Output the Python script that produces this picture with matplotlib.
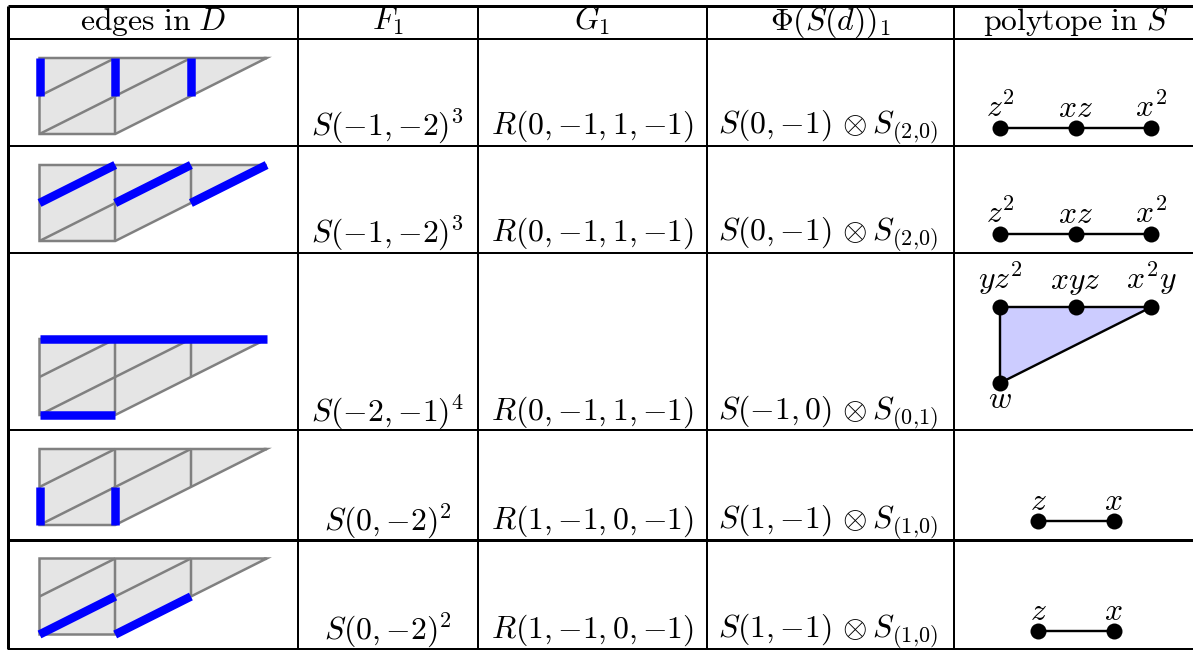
import matplotlib
matplotlib.use("Agg")
import matplotlib.pyplot as plt
from matplotlib.patches import Polygon

plt.rcParams['mathtext.fontset'] = 'cm'
plt.rcParams['font.family'] = 'DejaVu Serif'

# table text
headers = [r"$\mathrm{edges\ in}\ D$", r"$F_1$", r"$G_1$", r"$\Phi(S(d))_1$", r"$\mathrm{polytope\ in}\ S$"]
f1_labels = [r"$S({-}1,{-}2)^3$", r"$S({-}1,{-}2)^3$", r"$S({-}2,{-}1)^4$", r"$S(0,{-}2)^2$", r"$S(0,{-}2)^2$"]
g1_labels = [r"$R(0,{-}1,1,{-}1)$", r"$R(0,{-}1,1,{-}1)$", r"$R(0,{-}1,1,{-}1)$",
             r"$R(1,{-}1,0,{-}1)$", r"$R(1,{-}1,0,{-}1)$"]
phi_labels = [r"$S(0,{-}1)\,\otimes S_{(2{,}0)}$", r"$S(0,{-}1)\,\otimes S_{(2{,}0)}$",
              r"$S({-}1,0)\,\otimes S_{(0{,}1)}$",
              r"$S(1,{-}1)\,\otimes S_{(1{,}0)}$", r"$S(1,{-}1)\,\otimes S_{(1{,}0)}$"]

# the triangulated shape, in lattice units
shape_outline = [(0, 0), (1, 0), (3, 2), (0, 2)]
grey_edges = [((0, 1), (1, 2)), ((0, 0), (2, 2)), ((1, 0), (1, 2)), ((2, 1), (2, 2))]
blue_edges = [
    [((0, 1), (0, 2)), ((1, 1), (1, 2)), ((2, 1), (2, 2))],
    [((0, 1), (1, 2)), ((1, 1), (2, 2)), ((2, 1), (3, 2))],
    [((0, 2), (3, 2)), ((0, 0), (1, 0))],
    [((0, 0), (0, 1)), ((1, 0), (1, 1))],
    [((0, 0), (1, 1)), ((1, 0), (2, 1))],
]

# polytopes: lattice points and their labels
poly_points = [
    [(0, 0), (1, 0), (2, 0)],
    [(0, 0), (1, 0), (2, 0)],
    [(0, 0), (1, 0), (2, 0), (0, -2)],
    [(0, 0), (1, 0)],
    [(0, 0), (1, 0)],
]
poly_labels = [
    [r"$z^2$", r"$xz$", r"$x^2$"],
    [r"$z^2$", r"$xz$", r"$x^2$"],
    [r"$yz^2$", r"$xyz$", r"$x^2y$", r"$w$"],
    [r"$z$", r"$x$"],
    [r"$z$", r"$x$"],
]

# layout in pixels (the right border of the table falls outside the crop)
W, H = 1193, 650
col_x = [7.5, 298, 477.5, 707, 953.5, 1199]
row_y = [5.5, 39, 146, 253, 430, 539.5, 648.5]
text_base = [134, 241, 420, 529, 638]
shape_x0 = 39.5
shape_y0 = [134, 241, 415, 525, 634.5]
ux, uy = 75.7, 38
poly_x0 = [1000, 1000, 1000, 1038, 1038]
poly_y0 = [128, 234, 307, 521, 631]
label_gap = [11, 11, 18, 11, 11]
FS = 22.8
PX = 0.72

fig = plt.figure(figsize=(W / 100, H / 100), dpi=100)
ax = fig.add_axes([0, 0, 1, 1])
ax.set_xlim(0, W)
ax.set_ylim(H, 0)
ax.axis('off')

for x in col_x:
    lw = 3 if x == col_x[0] else 2
    ax.plot([x, x], [row_y[0], row_y[-1]], color='black', lw=lw * PX, solid_capstyle='butt')
for y in row_y:
    lw = 3 if y == row_y[5] or y == row_y[0] else 2
    ax.plot([col_x[0], col_x[-1]], [y, y], color='black', lw=lw * PX, solid_capstyle='butt')

for i, h in enumerate(headers):
    ax.text((col_x[i] + col_x[i + 1]) / 2, 30, h, fontsize=FS, ha='center', va='baseline')


def shape_xy(p, y0):
    return shape_x0 + p[0] * ux, y0 - p[1] * uy


for r in range(5):
    y0 = shape_y0[r]
    ax.add_patch(Polygon([shape_xy(p, y0) for p in shape_outline], closed=True, facecolor='#e5e5e5',
                         edgecolor='#808080', lw=2.5 * PX, joinstyle='miter', zorder=2))
    # agg cuts this sharp miter off, so add the tip by hand unless a blue edge ends there
    if not any((3, 2) in edge for edge in blue_edges[r]):
        tx, ty = shape_xy((3, 2), y0)
        ax.add_patch(Polygon([(tx - 3, ty - 1.25), (tx + 5.3, ty - 1.25), (tx - 0.7, ty + 1.75)],
                             closed=True, facecolor='#808080', edgecolor='none', zorder=3))
    for a, b in grey_edges:
        xa, ya = shape_xy(a, y0)
        xb, yb = shape_xy(b, y0)
        ax.plot([xa, xb], [ya, yb], color='#808080', lw=2.5 * PX, solid_capstyle='butt', zorder=3)
    for a, b in blue_edges[r]:
        xa, ya = shape_xy(a, y0)
        xb, yb = shape_xy(b, y0)
        ax.plot([xa, xb], [ya, yb], color='#0000ff', lw=8.5 * PX, solid_capstyle='butt', zorder=4)

    base = text_base[r]
    ax.text((col_x[1] + col_x[2]) / 2, base, f1_labels[r], fontsize=FS, ha='center', va='baseline')
    ax.text((col_x[2] + col_x[3]) / 2, base, g1_labels[r], fontsize=FS, ha='center', va='baseline')
    ax.text((col_x[3] + col_x[4]) / 2 - 2, base, phi_labels[r], fontsize=FS, ha='center', va='baseline')

    # polytope column
    px = [poly_x0[r] + p[0] * ux for p in poly_points[r]]
    py = [poly_y0[r] - p[1] * uy for p in poly_points[r]]
    if len(px) == 4:
        ax.add_patch(Polygon([(px[0], py[0]), (px[2], py[2]), (px[3], py[3])], closed=True,
                             facecolor='#ccccff', edgecolor='black', lw=2.4 * PX, zorder=2))
    else:
        ax.plot([px[0], px[-1]], [py[0], py[-1]], color='black', lw=2.4 * PX, zorder=2)
    ax.scatter(px, py, s=(16 * PX) ** 2, color='black', zorder=5, linewidths=0)
    for k, lab in enumerate(poly_labels[r]):
        if py[k] > poly_y0[r]:
            ax.text(px[k], py[k] + 25, lab, fontsize=FS, ha='center', va='baseline')
        else:
            ax.text(px[k], py[k] - label_gap[r], lab, fontsize=FS, ha='center', va='baseline')

fig.savefig('out.png', dpi=100)
